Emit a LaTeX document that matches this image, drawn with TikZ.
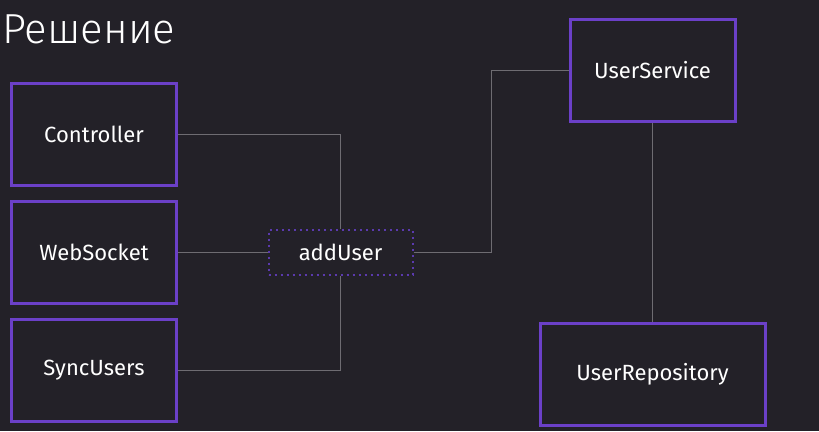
\documentclass[tikz,border=0pt]{standalone}
\usepackage{fontspec}
\setmainfont{Fira Sans}
\newfontfamily\titlefont{Fira Sans Light}
\usetikzlibrary{positioning}
\definecolor{bgdark}{HTML}{232128}
\definecolor{boxviolet}{HTML}{6B40C8}
\definecolor{dotviolet}{HTML}{5B3AAE}
\definecolor{wiregray}{HTML}{6E6C72}
\tikzset{
    classbox/.style={draw=boxviolet,line width=3pt,text=white,font=\fontsize{22}{26}\selectfont,minimum width=165pt,minimum height=102pt,inner sep=0pt},
    methodbox/.style={draw=dotviolet,line width=2pt,dash pattern=on 2pt off 4pt,text=white,font=\fontsize{22}{26}\selectfont,minimum width=144pt,minimum height=45pt,inner sep=0pt},
    wire/.style={wiregray,line width=1pt}
}
\begin{document}
\begin{tikzpicture}[x=1pt,y=-1pt]
	    \fill[bgdark] (0,0) rectangle (819,431);
	    \useasboundingbox (0,0) rectangle (819,431);
	    \node[anchor=base west,text=white,font=\titlefont\fontsize{42}{48}\selectfont,inner sep=0pt] (title) at (2,43) {Решение};
	    \node[classbox] (ctrl) at (94,134.5) {Controller};
	    \node[classbox] (ws) at (94,252) {WebSocket};
	    \node[classbox] (sync) at (94,370.5) {SyncUsers};
	    \node[methodbox] (add) at (340.5,252) {addUser};
	    \node[classbox] (svc) at (652.5,70.5) {UserService};
	    \node[classbox,minimum width=225pt] (repo) at (652.5,374) {UserRepository};
	    \coordinate (bend) at (491,252);
	    \draw[wire] (ctrl.east) -| (add.north);
	    \draw[wire] (ws.east) -- (add.west);
	    \draw[wire] (sync.east) -| (add.south);
	    \draw[wire] (add.east) -- (bend) |- (svc.west);
	    \draw[wire] (svc.south) -- (repo.north);
	\end{tikzpicture}
\end{document}
